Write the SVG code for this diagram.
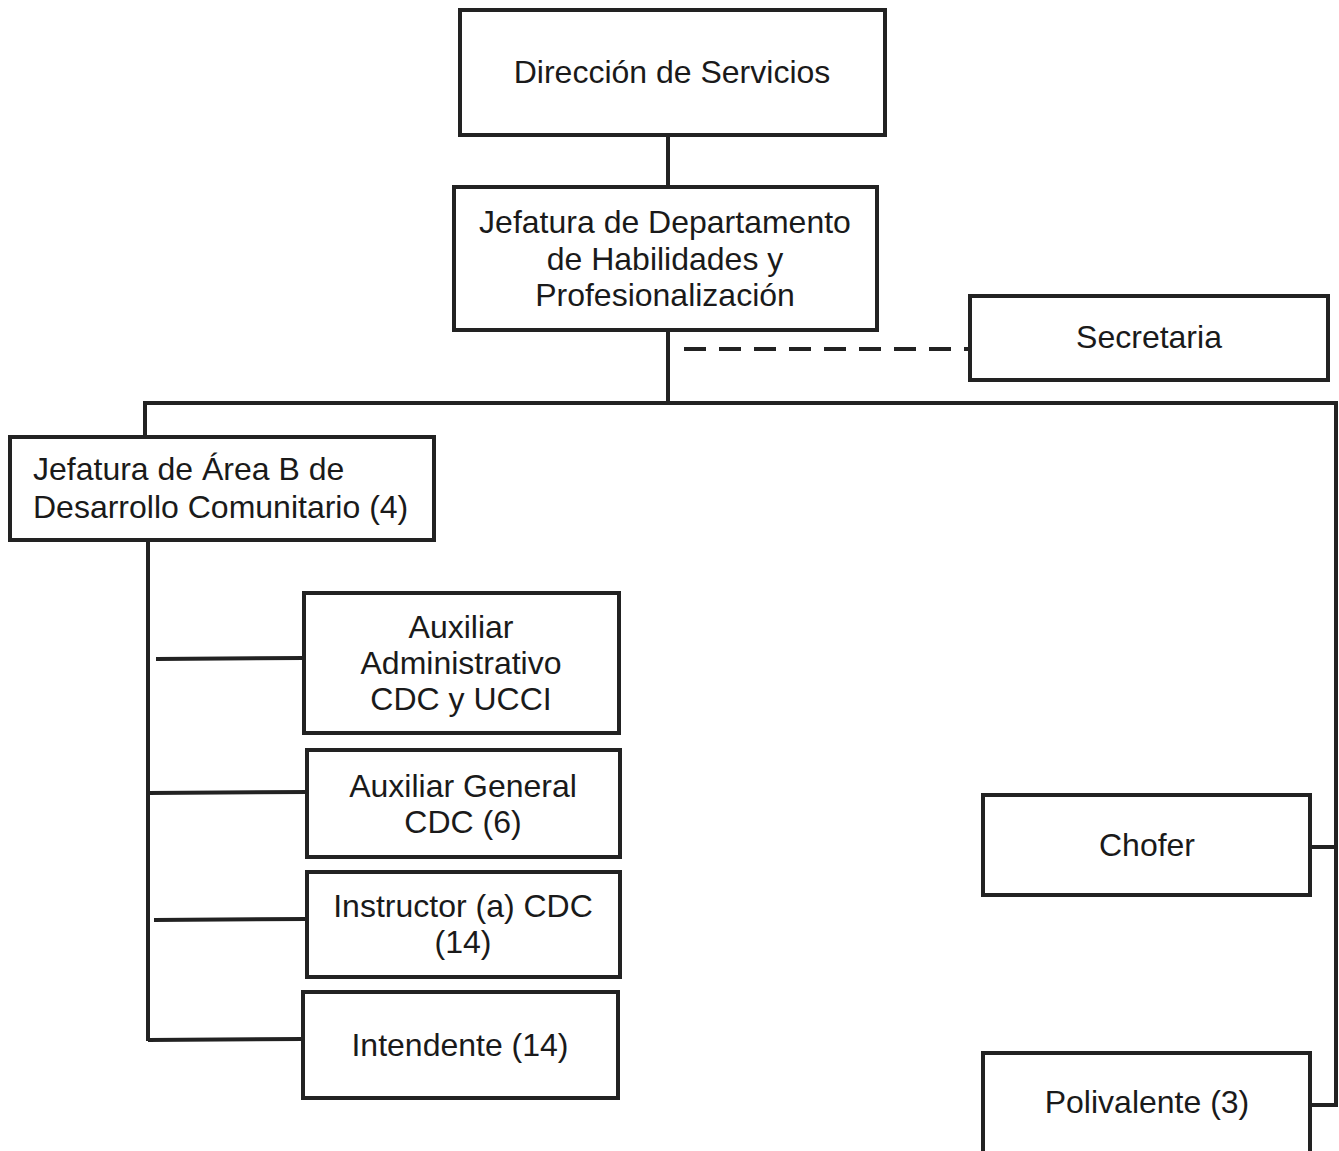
<svg xmlns="http://www.w3.org/2000/svg" width="1339" height="1151" viewBox="0 0 1339 1151">
<style>
.box{fill:#fff;stroke:#222;stroke-width:4}
.ln{fill:none;stroke:#222;stroke-width:4}
.dash{fill:none;stroke:#222;stroke-width:4;stroke-dasharray:22 13}
text{font-family:"Liberation Sans",Arial,sans-serif;font-size:32px;fill:#1a1a1a}
.c{text-anchor:middle}
</style>
<rect width="1339" height="1151" fill="#fff"/>
<g id="connectors">
<line class="ln" x1="668" y1="135" x2="668" y2="188"/>
<line class="ln" x1="668" y1="330" x2="668" y2="405"/>
<line class="dash" x1="684" y1="349" x2="970" y2="349"/>
<polyline class="ln" points="145,437 145,403 1336,403 1336,1105 1312,1105"/>
<line class="ln" x1="1310" y1="847" x2="1336" y2="847"/>
<line class="ln" x1="148" y1="540" x2="148" y2="1041"/>
<line class="ln" x1="156" y1="659" x2="304" y2="658"/>
<line class="ln" x1="148" y1="793" x2="309" y2="792"/>
<line class="ln" x1="154" y1="920" x2="307" y2="919"/>
<line class="ln" x1="148" y1="1040" x2="303" y2="1039"/>
</g>
<g id="n-direccion">
<rect class="box" x="460" y="10" width="425" height="125"/>
<text class="c" x="672" y="83">Dirección de Servicios</text>
</g>
<g id="n-jefatura-depto">
<rect class="box" x="454" y="187" width="423" height="143"/>
<text class="c" x="665" y="233">Jefatura de Departamento</text>
<text class="c" x="665" y="270">de Habilidades y</text>
<text class="c" x="665" y="306">Profesionalización</text>
</g>
<g id="n-secretaria">
<rect class="box" x="970" y="296" width="358" height="84"/>
<text class="c" x="1149" y="348">Secretaria</text>
</g>
<g id="n-jefatura-area">
<rect class="box" x="10" y="437" width="424" height="103"/>
<text x="33" y="480">Jefatura de Área B de</text>
<text x="33" y="518">Desarrollo Comunitario (4)</text>
</g>
<g id="n-aux-admin">
<rect class="box" x="304" y="593" width="315" height="140"/>
<text class="c" x="461" y="638">Auxiliar</text>
<text class="c" x="461" y="674">Administrativo</text>
<text class="c" x="461" y="710">CDC y UCCI</text>
</g>
<g id="n-aux-general">
<rect class="box" x="307" y="750" width="313" height="107"/>
<text class="c" x="463" y="797">Auxiliar General</text>
<text class="c" x="463" y="833">CDC (6)</text>
</g>
<g id="n-instructor">
<rect class="box" x="307" y="872" width="313" height="105"/>
<text class="c" x="463" y="917">Instructor (a) CDC</text>
<text class="c" x="463" y="953">(14)</text>
</g>
<g id="n-intendente">
<rect class="box" x="303" y="992" width="315" height="106"/>
<text class="c" x="460" y="1056">Intendente (14)</text>
</g>
<g id="n-chofer">
<rect class="box" x="983" y="795" width="327" height="100"/>
<text class="c" x="1147" y="856">Chofer</text>
</g>
<g id="n-polivalente">
<rect class="box" x="983" y="1053" width="327" height="110"/>
<text class="c" x="1147" y="1113">Polivalente (3)</text>
</g>
</svg>
